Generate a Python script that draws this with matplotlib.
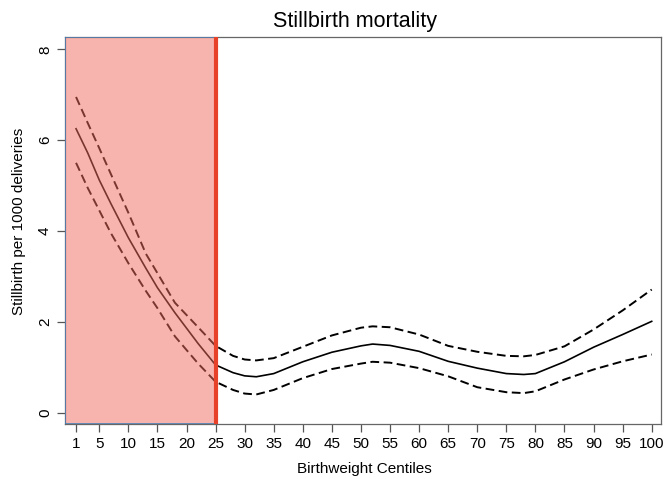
import matplotlib
matplotlib.use("Agg")
import matplotlib.pyplot as plt

plt.rcParams["font.family"] = ["Liberation Sans", "DejaVu Sans"]

# values (centile -> stillbirths per 1000)
centiles = [1, 3, 5, 7, 10, 13, 15, 18, 20, 22, 25, 28, 30, 32, 35, 40, 45, 50, 52,
            55, 60, 65, 70, 75, 78, 80, 85, 90, 95, 100]
estimate = [6.25, 5.72, 5.12, 4.60, 3.85, 3.18, 2.75, 2.20, 1.86, 1.52, 1.05, 0.88, 0.81,
            0.79, 0.86, 1.12, 1.33, 1.47, 1.51, 1.48, 1.35, 1.13, 0.98, 0.86, 0.84, 0.86,
            1.12, 1.44, 1.72, 2.01]
upper_ci = [6.95, 6.38, 5.82, 5.25, 4.40, 3.50, 3.07, 2.42, 2.15, 1.88, 1.47, 1.25, 1.17,
            1.15, 1.20, 1.45, 1.70, 1.87, 1.90, 1.88, 1.72, 1.47, 1.34, 1.25, 1.24, 1.27,
            1.46, 1.83, 2.25, 2.71]
lower_ci = [5.50, 4.95, 4.45, 3.95, 3.29, 2.68, 2.30, 1.68, 1.38, 1.08, 0.68, 0.50, 0.42,
            0.40, 0.50, 0.76, 0.96, 1.08, 1.12, 1.10, 0.98, 0.80, 0.56, 0.45, 0.43, 0.47,
            0.73, 0.95, 1.13, 1.28]

x_ticks = [1] + list(range(5, 101, 5))
y_ticks = [0, 2, 4, 6, 8]
cutoff = 25

fig = plt.figure(figsize=(6.66, 4.79), dpi=100)
ax = fig.add_axes([65 / 666, 1 - 424 / 479, 596 / 666, 387 / 479])

dash = (0, (4.5, 2.3))
ax.plot(centiles, estimate, color="black", lw=1.2, zorder=2)
ax.plot(centiles, upper_ci, color="black", lw=1.4, linestyle=dash, zorder=2)
ax.plot(centiles, lower_ci, color="black", lw=1.4, linestyle=dash, zorder=2)

ax.set_xlim(-0.9, 101.6)
ax.set_ylim(-0.25, 8.27)

# shaded small-for-gestational-age region
x0 = ax.get_xlim()[0]
ax.axvspan(x0, cutoff, facecolor=(0.94, 0.42, 0.37, 0.5), edgecolor="#3b7fb8",
           lw=1.1, zorder=3)
ax.axvline(cutoff, color="#e8412a", lw=3.0, zorder=4)

ax.set_xticks(x_ticks)
ax.set_yticks(y_ticks)
ax.tick_params(axis="both", length=5.8, width=0.9, color="#555555", labelsize=11, pad=3.5)
for lbl in ax.get_yticklabels():
    lbl.set_rotation(90)
    lbl.set_va("center")
for sp in ax.spines.values():
    sp.set_color("#666666")
    sp.set_linewidth(0.9)

fig.text(355 / 666, 1 - 27 / 479, "Stillbirth mortality", ha="center", va="baseline",
         fontsize=15.5)
fig.text(364 / 666, 1 - 473 / 479, "Birthweight Centiles", ha="center", va="baseline",
         fontsize=11)
fig.text(19 / 666, 1 - 221 / 479, "Stillbirth per 1000 deliveries", ha="center",
         va="center", rotation=90, fontsize=11)

fig.savefig("out.png", dpi=100)
plt.close(fig)
